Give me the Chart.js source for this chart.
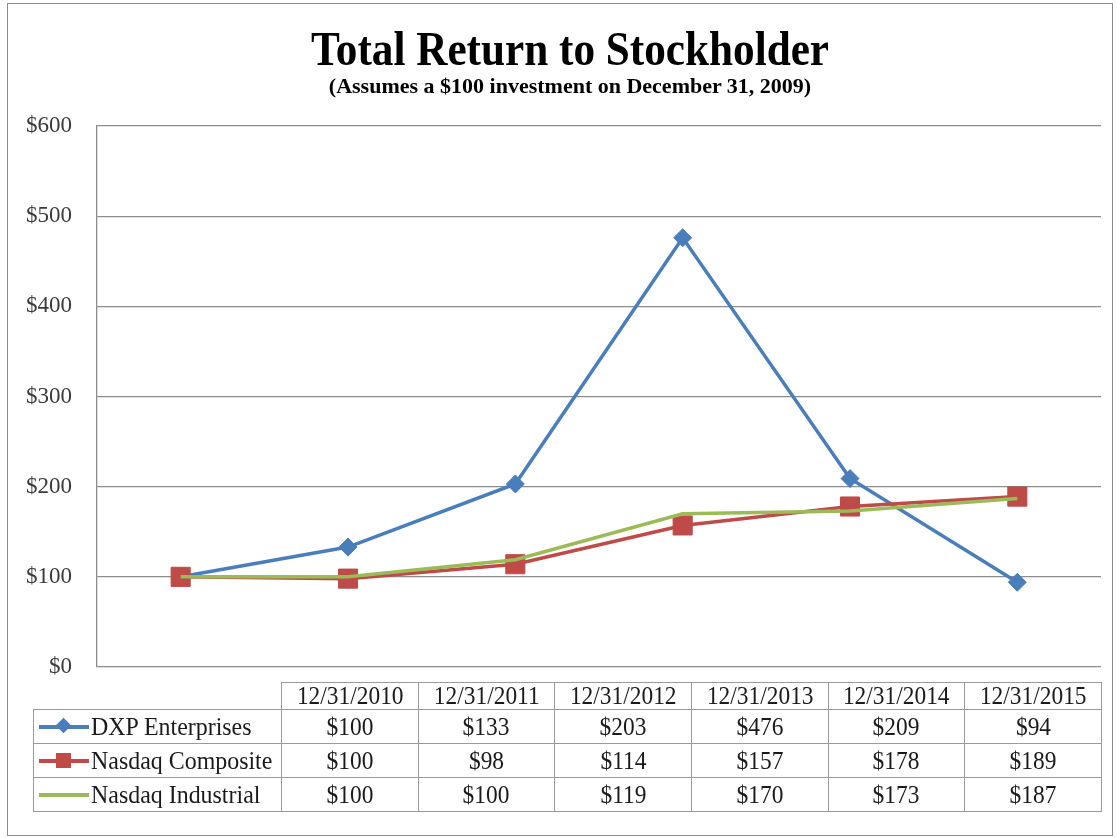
<!DOCTYPE html>
<html>
<head>
<meta charset="utf-8">
<script src="https://cdn.jsdelivr.net/npm/chart.js@4.4.1/dist/chart.umd.min.js"></script>
<style>
html,body{margin:0;padding:0;background:#fff;}
#wrap{position:relative;width:1117px;height:838px;overflow:hidden;font-family:'Liberation Serif','Times New Roman',serif;}
#frame{position:absolute;left:7px;top:3px;width:1104px;height:831px;border:1.5px solid #8c8c8c;}
#c{position:absolute;left:0;top:0;}
.ttl{position:absolute;left:570px;white-space:nowrap;font-weight:bold;color:#000;line-height:1;}
#t1{top:25px;font-size:48px;transform:translateX(-50%) scaleX(0.9);}
#t2{top:75px;font-size:22px;transform:translateX(-50%);}
#tbl{position:absolute;left:33px;top:682px;border-collapse:collapse;table-layout:fixed;width:1068px;color:#1a1a1a;}
#tbl td{border:1px solid #9a9a9a;padding:0;text-align:center;vertical-align:middle;font-size:26px;line-height:1;white-space:nowrap;overflow:visible;}
#tbl tr.h td{height:25px;}
#tbl tr.d td{height:33px;}
#tbl td.blank{border-top:none;border-left:none;}
.sq{display:inline-block;transform:scaleX(0.9);}
.leg{position:relative;height:33px;text-align:left;}
.leg .ln{position:absolute;left:5px;top:15px;width:50px;height:3.5px;}
.leg .mk{position:absolute;}
.leg .tx{position:absolute;left:57px;top:4px;display:inline-block;transform:scaleX(0.92);transform-origin:left center;}
</style>
</head>
<body>
<div id="wrap">
  <div id="frame"></div>
  <canvas id="c" width="1117" height="838"></canvas>
  <div id="t1" class="ttl">Total Return to Stockholder</div>
  <div id="t2" class="ttl">(Assumes a $100 investment on December 31, 2009)</div>
  <table id="tbl"></table>
</div>
<script>
// ---- data ----
const categories = ['12/31/2010','12/31/2011','12/31/2012','12/31/2013','12/31/2014','12/31/2015'];
const seriesNames = ['DXP Enterprises','Nasdaq Composite','Nasdaq Industrial'];
const dxpValues = [100, 133, 203, 476, 209, 94];
const compositeValues = [100, 98, 114, 157, 178, 189];
const industrialValues = [100, 100, 119, 170, 173, 187];
const yTickValues = [0, 100, 200, 300, 400, 500, 600];

const colors = ['#4A7EBB', '#BE4B48', '#9BBB59'];
const allValues = [dxpValues, compositeValues, industrialValues];
const fmt = v => '$' + v;

// ---- table ----
const tbl = document.getElementById('tbl');
let html = '<colgroup><col style="width:248px">' + categories.map(() => '<col style="width:136.67px">').join('') + '</colgroup>';
html += '<tr class="h"><td class="blank"></td>' + categories.map(c => '<td><span class="sq">' + c + '</span></td>').join('') + '</tr>';
seriesNames.forEach((name, i) => {
  let mk = '';
  if (i === 0) mk = '<div class="mk" style="left:24px;top:10px;width:11px;height:11px;background:' + colors[0] + ';transform:rotate(45deg);"></div>';
  if (i === 1) mk = '<div class="mk" style="left:22px;top:9px;width:15px;height:15px;background:' + colors[1] + ';"></div>';
  html += '<tr class="d"><td><div class="leg"><div class="ln" style="background:' + colors[i] + '"></div>' + mk +
    '<span class="tx">' + name + '</span></div></td>' +
    allValues[i].map(v => '<td><span class="sq">' + fmt(v) + '</span></td>').join('') + '</tr>';
});
tbl.innerHTML = html;

// ---- chart ----
const ctx = document.getElementById('c').getContext('2d');
new Chart(ctx, {
  type: 'line',
  data: {
    labels: categories,
    datasets: [
      {
        label: seriesNames[0], data: dxpValues, order: 3,
        borderColor: colors[0], backgroundColor: colors[0], borderWidth: 3.5,
        pointStyle: 'rectRot', pointRadius: 9, pointBorderWidth: 1,
        pointBackgroundColor: colors[0], pointBorderColor: colors[0], tension: 0
      },
      {
        label: seriesNames[1], data: compositeValues, order: 2,
        borderColor: colors[1], backgroundColor: colors[1], borderWidth: 3.5,
        pointStyle: 'rect', pointRadius: 13.5, pointBorderWidth: 1,
        pointBackgroundColor: colors[1], pointBorderColor: colors[1], tension: 0
      },
      {
        label: seriesNames[2], data: industrialValues, order: 1,
        borderColor: colors[2], backgroundColor: colors[2], borderWidth: 3.5,
        pointRadius: 0, tension: 0
      }
    ]
  },
  options: {
    responsive: false,
    animation: false,
    devicePixelRatio: 1,
    layout: { padding: { top: 126, right: 16, bottom: 171, left: 0 } },
    plugins: { legend: { display: false }, tooltip: { enabled: false }, title: { display: false } },
    scales: {
      x: { type: 'category', offset: true, display: false },
      y: {
        min: yTickValues[0], max: yTickValues[yTickValues.length - 1],
        afterBuildTicks: s => { s.ticks = yTickValues.map(v => ({ value: v })); },
        afterFit: s => { s.width = 97; },
        ticks: {
          callback: v => fmt(v), padding: 25, color: '#3a3a3a',
          font: { family: "'Liberation Serif', 'Times New Roman', serif", size: 23 }
        },
        grid: { color: '#8c8c8c', lineWidth: 1.3, drawTicks: false },
        border: { color: '#8c8c8c', width: 1.3 }
      }
    }
  }
});
</script>
</body>
</html>
